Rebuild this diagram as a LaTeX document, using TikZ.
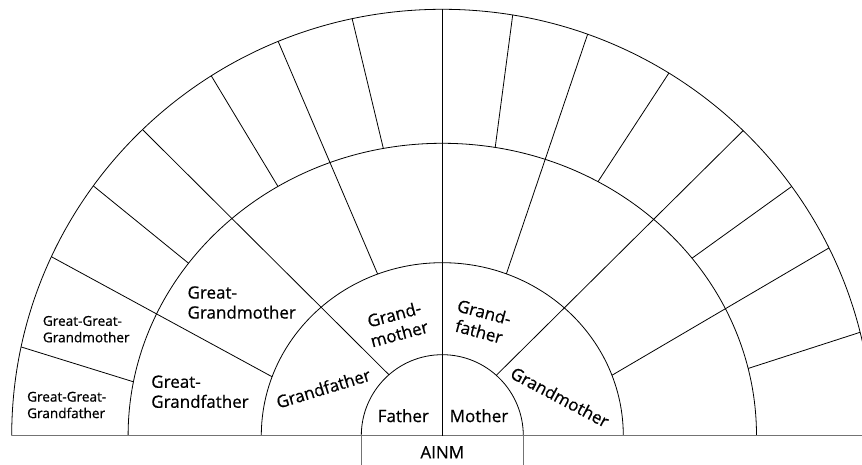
\documentclass[tikz,border=0pt]{standalone}
\usepackage{fontspec}
\setmainfont{Open Sans}[FakeBold=0.6]
% radius of each (slightly flattened) ring at a polar angle
\pgfmathdeclarefunction{rtwo}{1}{\pgfmathparse{181/sqrt(cos(#1)^2+(1.0462*sin(#1))^2)}}
\pgfmathdeclarefunction{rthree}{1}{\pgfmathparse{314.2/sqrt(cos(#1)^2+(1.0746*sin(#1))^2)}}
\pgfmathdeclarefunction{rfour}{1}{\pgfmathparse{430.6/sqrt(cos(#1)^2+(1.0098*sin(#1))^2)}}
\begin{document}
\begin{tikzpicture}[x=1pt, y=1pt,
  fan/.style={line width=0.8pt},
  ground/.style={line width=1.3pt, black!55},
  lbl/.style={font=\fontsize{17}{20}\selectfont, align=center, inner sep=0pt},
  small/.style={font=\fontsize{13.6}{16.5}\selectfont, align=left, inner sep=0pt}]
\useasboundingbox (0,0) rectangle (862,465);
\clip (0,0) rectangle (862,465);
\begin{scope}[shift={(442.3,29.3)}]
% Rings
\draw[fan] (81,0) arc[start angle=0, end angle=180, radius=81];
\draw[fan] (181,0) arc[start angle=0, end angle=180, x radius=181, y radius=173];
\draw[fan] (314.2,0) arc[start angle=0, end angle=180, x radius=314.2, y radius=292.4];
\draw[fan] (430.6,0) arc[start angle=0, end angle=180, x radius=430.6, y radius=426.4];
% Ground line and the box below it
\draw[ground] (-430.6,0) -- (440,0);
\draw[ground] (-81,0) -- (-81,-40);
\draw[ground] (81,0) -- (81,-40);
% Father | Mother
\draw[fan] (0,0) -- (0,426.4);
% Grandparents
\draw[fan] (131.2:81) -- (134.4:{rfour(134.4)});
\draw[fan] (48.2:81) -- (45.4:{rfour(45.4)});
% Great-grandparents
\draw[fan] (160.9:{rtwo(160.9)}) -- (155.4:{rfour(155.4)});
\draw[fan] (111.8:{rtwo(111.8)}) -- (112.6:{rfour(112.6)});
\draw[fan] (68.4:{rtwo(68.4)}) -- (70.1:{rfour(70.1)});
\draw[fan] (19.6:{rtwo(19.6)}) -- (25.9:{rfour(25.9)});
% Great-great-grandparents
\draw[fan] (170.1:{rthree(170.1)}) -- (168.1:{rfour(168.1)});
\draw[fan] (145.8:{rthree(145.8)}) -- (144.4:{rfour(144.4)});
\draw[fan] (123.4:{rthree(123.4)}) -- (122.7:{rfour(122.7)});
\draw[fan] (101.6:{rthree(101.6)}) -- (102.2:{rfour(102.2)});
\draw[fan] (79.6:{rthree(79.6)}) -- (80.5:{rfour(80.5)});
\draw[fan] (58.5:{rthree(58.5)}) -- (58.0:{rfour(58.0)});
\draw[fan] (35.4:{rthree(35.4)}) -- (35.5:{rfour(35.5)});
\draw[fan] (12.4:{rthree(12.4)}) -- (13.9:{rfour(13.9)});
% Labels
\node[lbl] (ainm) at (0,-16.6) {AINM};
\node[lbl] (father) at (-39,20) {Father};
\node[lbl] (mother) at (36.7,20) {Mother};
\node[lbl, rotate=15] (gmpat) at (-45.6,111.7) {Grand-\\mother};
\node[lbl, rotate=-15] (gfmat) at (39.4,114) {Grand-\\father};
\node[lbl, rotate=17] (gfpat) at (-119,47.4) {Grandfather};
\node[lbl, rotate=-28] (gmmat) at (117.7,38.7) {Grandmother};
\node[lbl, align=left] (ggm) at (-200.6,133.2) {Great-\\Grandmother};
\node[lbl, align=left] (ggf) at (-242.3,44) {Great-\\Grandfather};
\node[small] (gggm) at (-356.1,106.5) {Great-Great-\\Grandmother};
\node[small] (gggf) at (-375.6,30.7) {Great-Great-\\Grandfather};
\end{scope}
\end{tikzpicture}
\end{document}
